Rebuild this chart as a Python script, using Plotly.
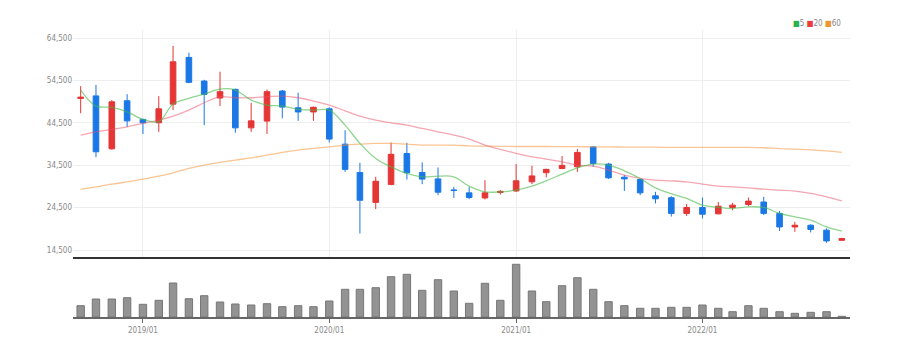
import pandas as pd
import plotly.graph_objects as go

# ---------------- data ----------------
months = pd.date_range("2018-09-01", periods=50, freq="MS")

open_ = [50300, 50900, 38400, 49750, 45350, 44550, 48950, 60000, 54400, 50400,
         52450, 43350, 44950, 52050, 48100, 47100, 47850, 39500, 32800, 25750,
         30000, 37300, 32800, 31300, 28700, 28000, 26800, 28100, 28450, 30600,
         32750, 33750, 34150, 38850, 34800, 31700, 31150, 27300, 26850, 23150,
         24550, 23050, 24550, 25250, 25850, 23150, 19950, 20350, 19200, 16800]
high = [53200, 53500, 49900, 51300, 45500, 50850, 62700, 61100, 54700, 56600,
        52600, 49250, 52400, 52300, 51650, 48400, 48200, 42800, 35100, 31800,
        39900, 39800, 35200, 34000, 29400, 29400, 31000, 28650, 34800, 34400,
        33700, 36700, 38350, 39000, 35100, 32200, 31300, 28250, 27200, 25350,
        26900, 25850, 25650, 26900, 27050, 23750, 21150, 20600, 19600, 17400]
low = [46800, 36400, 38200, 43600, 41900, 42400, 47550, 53900, 44000, 48500,
       42200, 42400, 41900, 45600, 45000, 45000, 39900, 32950, 18400, 24150,
       29800, 31150, 30050, 27450, 26800, 26500, 26450, 27600, 28200, 30050,
       31650, 33600, 32950, 34150, 31300, 28450, 27450, 25500, 22400, 22550,
       21950, 22900, 23900, 24850, 22750, 19000, 18800, 18650, 16200, 16700]
close = [50600, 37700, 49500, 45000, 44550, 47850, 58950, 54100, 51250, 51900,
         43350, 45000, 51900, 48250, 47100, 48200, 40700, 33550, 26250, 30750,
         37100, 32750, 31250, 28150, 28550, 26900, 28000, 28350, 30850, 32000,
         33550, 34500, 37550, 34950, 31550, 31300, 28000, 26600, 23150, 24550,
         22950, 24850, 25100, 26050, 23150, 19950, 20350, 19350, 16650, 17200]

ma5 = [52280, 48500, 48190, 47150, 45350, 44780, 48970, 50320, 51330, 52510,
       52280, 49910, 48730, 48500, 47720, 47550, 47550, 44000, 39680, 36130,
       34150, 32590, 31780, 31950, 31780, 29580, 28240, 28240, 28640, 29580,
       30840, 32420, 33910, 34780, 34550, 33200, 31400, 29180, 27800, 26680,
       25090, 24550, 24310, 24690, 24550, 23130, 22330, 21550, 19960, 18950]
ma20 = [41640, 42420, 42990, 43600, 44410, 45190, 46130, 47550, 49280, 50700,
        50460, 50460, 50700, 50860, 50460, 49680, 48730, 47380, 46130, 45190,
        44550, 44000, 43220, 42420, 41640, 40700, 39280, 38260, 37310, 36510,
        35970, 35330, 34550, 34310, 33370, 32180, 31400, 31000, 30840, 30600,
        30060, 29580, 29420, 29180, 28870, 28640, 28400, 27860, 27050, 26110]
ma60 = [28800, 29420, 30060, 30600, 31240, 31950, 32730, 33770, 34550, 35190,
        35730, 36270, 36910, 37550, 38100, 38500, 38870, 39280, 39510, 39680,
        39680, 39510, 39280, 39280, 39280, 39110, 39040, 39000, 38950, 38950,
        38950, 38900, 38900, 38870, 38850, 38820, 38800, 38780, 38750, 38730,
        38730, 38730, 38730, 38730, 38650, 38450, 38330, 38150, 37930, 37550]

volume = [1130, 1800, 1800, 1930, 1270, 1670, 3400, 1830, 2130, 1500,
          1300, 1200, 1330, 1030, 1130, 1030, 1600, 2770, 2770, 2930,
          4030, 4270, 2670, 3730, 2600, 1370, 3370, 1670, 5270, 2600,
          1530, 3130, 3930, 2770, 1530, 1130, 870, 870, 970, 970,
          1200, 870, 530, 1130, 870, 530, 370, 470, 530, 70]

price_ticks = [14500, 24500, 34500, 44500, 54500, 64500]
price_tick_text = [f"{v:,}" for v in price_ticks]

# ---------------- style ----------------
RED = "#e53535"
BLUE = "#1a78e6"
FONT = "DejaVu Sans Condensed, Liberation Sans, sans-serif"
DAY_MS = 86400000

fig = go.Figure()

fig.add_trace(go.Candlestick(
    x=months, open=open_, high=high, low=low, close=close,
    increasing=dict(line=dict(color=RED, width=1), fillcolor=RED),
    decreasing=dict(line=dict(color=BLUE, width=1), fillcolor=BLUE),
    whiskerwidth=0, showlegend=False, hoverinfo="skip",
    xaxis="x", yaxis="y"))

for vals, col in [(ma60, "rgba(245,150,60,0.55)"),
                  (ma20, "rgba(236,80,100,0.5)"),
                  (ma5, "rgba(70,185,70,0.6)")]:
    fig.add_trace(go.Scatter(x=months, y=vals, mode="lines",
                             line=dict(color=col, width=1.3, shape="spline"),
                             showlegend=False, hoverinfo="skip",
                             xaxis="x", yaxis="y"))

fig.add_trace(go.Bar(x=months, y=volume, width=14.5 * DAY_MS,
                     marker=dict(color="#939393", line=dict(color="#777777", width=1)),
                     showlegend=False, hoverinfo="skip",
                     xaxis="x2", yaxis="y2"))

xrange = ["2018-08-17", "2022-10-17"]

fig.update_layout(
    width=900, height=357,
    margin=dict(l=73, r=50, t=30, b=40),
    paper_bgcolor="white", plot_bgcolor="white",
    font=dict(family=FONT, size=8, color="#888"),
    boxgap=0.44,
    xaxis=dict(domain=[0, 1], type="date", range=xrange, anchor="y",
               showticklabels=False, showgrid=True, gridcolor="#eeeeee",
               tick0="2019-01-01", dtick="M12", ticks="",
               showline=True, linecolor="#333", linewidth=2,
               rangeslider=dict(visible=False), zeroline=False),
    yaxis=dict(domain=[0.209, 1], range=[12850, 66460], anchor="x",
               tickmode="array", tickvals=price_ticks, ticktext=price_tick_text,
               showgrid=True, gridcolor="#eeeeee", zeroline=False,
               showline=False, ticks="", tickfont=dict(size=8, color="#888")),
    xaxis2=dict(domain=[0, 1], type="date", range=xrange, anchor="y2",
                tickformat="%Y/%m", tick0="2019-01-01", dtick="M12",
                ticks="outside", ticklen=4, tickcolor="#666",
                showline=True, linecolor="#666", linewidth=2,
                showgrid=False, zeroline=False,
                tickfont=dict(size=8, color="#888")),
    yaxis2=dict(domain=[0, 0.1916], range=[0, 5500], anchor="x2", visible=False),
    annotations=[dict(
        xref="paper", yref="paper", x=0.991, y=1.021, xanchor="right", yanchor="middle",
        showarrow=False, font=dict(size=8, color="#888", family=FONT),
        text=("<span style='color:#2bb34a'>■</span>5 "
              "<span style='color:#ee3a3a'>■</span>20 "
              "<span style='color:#f0962e'>■</span>60"))],
)

fig.write_html("out.html", config={"displayModeBar": False},
               post_script="document.body.style.margin='0';document.body.style.overflow='hidden';")
